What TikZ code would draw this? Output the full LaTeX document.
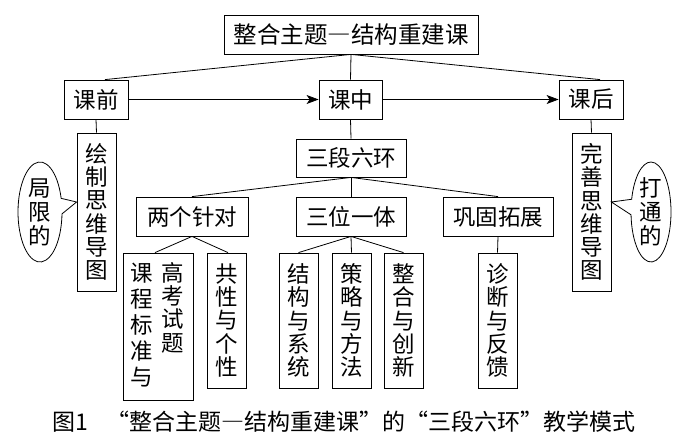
\documentclass[tikz,border=0pt]{standalone}
\usepackage{fontspec}
\setmainfont{Noto Sans CJK SC}
\newcommand{\fw}[1]{{\addfontfeature{CharacterWidth=Full}#1}}
\usetikzlibrary{arrows.meta,shapes.callouts,shapes.geometric}
\begin{document}
\begin{tikzpicture}[x=1pt,y=-1pt,
  box/.style={draw, line width=0.8pt, inner sep=0pt, align=center, font=\fontsize{22.5}{23.3}\selectfont},
  hbox/.style={box, minimum height=39pt},
  vbox/.style={box, minimum width=39pt, minimum height=135pt},
  txt/.style={inner sep=0pt, align=center, font=\fontsize{22.5}{23.3}\selectfont},
  ln/.style={line width=0.8pt},
  arr/.style={line width=0.8pt, -{Stealth[length=12pt,width=9pt,inset=3pt]}},
  callbox/.style={ellipse callout, draw, line width=0.8pt, inner sep=0pt, align=center,
    font=\fontsize{22.5}{24}\selectfont, minimum width=44pt, minimum height=100pt, callout pointer arc=18}
]
\useasboundingbox[fill=white] (0,0) rectangle (700,444);
% top levels
\node[hbox, minimum width=254pt, font=\fontsize{23.5}{24}\selectfont] (title) at (351,34.5) {整合主题\fw{—}结构重建课};
\node[hbox, minimum width=64pt] (kq) at (96,99.5) {课前};
\node[hbox, minimum width=63pt] (kz) at (350.5,99.5) {课中};
\node[hbox, minimum width=64pt] (kh) at (591,99.5) {课后};
\node[box, minimum width=39pt, minimum height=158pt] (hz) at (96.5,212) {绘\\制\\思\\维\\导\\图};
\node[box, minimum width=39pt, minimum height=158pt] (ws) at (591.5,212) {完\\善\\思\\维\\导\\图};
\node[hbox, minimum width=110pt, minimum height=38pt] (sd) at (351,158) {三段六环};
\node[hbox, minimum width=112pt] (lg) at (192,216.5) {两个针对};
\node[hbox, minimum width=110pt] (sw) at (351,216.5) {三位一体};
\node[hbox, minimum width=110pt] (gg) at (498,216.5) {巩固拓展};
% bottom row
\node[box, minimum width=70pt, minimum height=147pt] (kc) at (158,326.5) {};
\node[txt, font=\fontsize{22.5}{26}\selectfont] (kcl) at (141.5,325) {课\\程\\标\\准\\与};
\node[txt] (kcr) at (172.5,307.5) {高\\考\\试\\题};
\node[vbox] (gx) at (226.5,320.5) {共\\性\\与\\个\\性};
\node[vbox] (jg) at (298.5,320.5) {结\\构\\与\\系\\统};
\node[vbox] (cl) at (351.5,320.5) {策\\略\\与\\方\\法};
\node[vbox] (zh) at (403.5,320.5) {整\\合\\与\\创\\新};
\node[vbox] (zd) at (497.5,320.5) {诊\\断\\与\\反\\馈};
% callouts
\node[callbox, callout absolute pointer={([yshift=10pt]hz.west)}] (jx) at (40,212) {局\\限\\的};
\node[callbox, minimum width=40pt, callout absolute pointer={([yshift=10pt]ws.east)}] (dt) at (651,212) {打\\通\\的};
% connectors
\draw[ln] (title.south) -- ([xshift=9pt]kq.north);
\draw[ln] (title.south) -- (kz.north);
\draw[ln] (title.south) -- ([xshift=9pt]kh.north);
\draw[arr] (kq.east) -- (kz.west);
\draw[arr] (kz.east) -- (kh.west);
\draw[ln] (kq.south) -- (hz.north);
\draw[ln] (kz.south) -- (sd.north);
\draw[ln] (kh.south) -- (ws.north);
\draw[ln] (sd.south) -- (lg.north);
\draw[ln] (sd.south) -- (sw.north);
\draw[ln] (sd.south) -- (gg.north);
\draw[ln] (lg.south) -- ([xshift=-3pt]kc.north);
\draw[ln] (lg.south) -- ([xshift=1.5pt]gx.north);
\draw[ln] (sw.south) -- (jg.north);
\draw[ln] (sw.south) -- (cl.north);
\draw[ln] (sw.south) -- (zh.north);
\draw[ln] (gg.south) -- (zd.north);
% caption
\node[txt, font=\fontsize{23}{24}\selectfont] (cap) at (344,422) {图1\hspace{0.8em}\fw{“}整合主题\fw{—}结构重建课\fw{”}的\fw{“}三段六环\fw{”}教学模式};
\end{tikzpicture}
\end{document}
